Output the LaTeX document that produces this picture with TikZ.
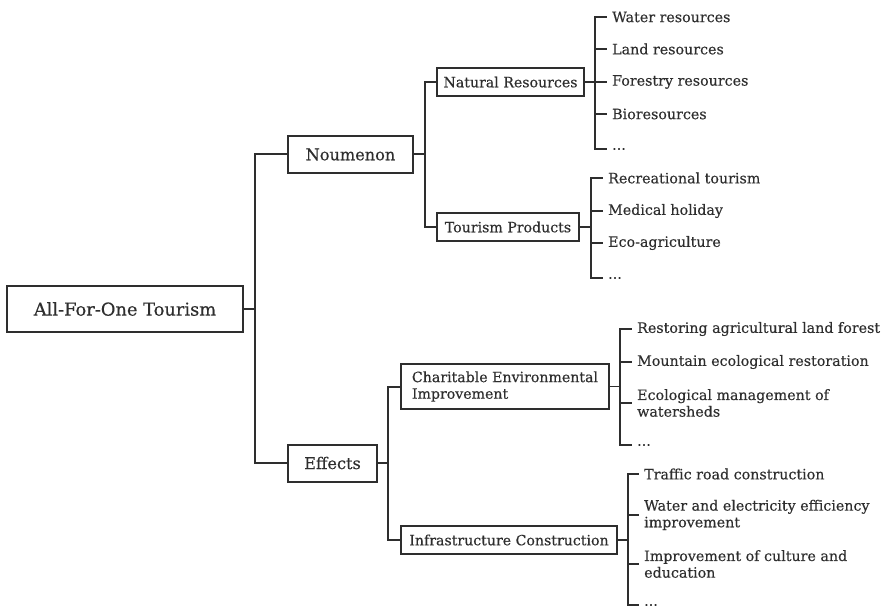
\documentclass[tikz,border=0pt]{standalone}
\usepackage{fontspec}
\setmainfont{DejaVu Serif}[FakeBold=0.35]
\definecolor{ink}{HTML}{2E2E2E}
\begin{document}
\begin{tikzpicture}[x=1bp,y=-1bp,
  box/.style={draw=ink,text=ink,inner sep=0pt,align=center},
  rootbox/.style={box,line width=2.2bp,minimum width=236bp,minimum height=46bp,font=\fontsize{17.9}{21}\selectfont},
  lvlone/.style={box,line width=2bp,minimum height=37bp,font=\fontsize{16.2}{19}\selectfont},
  lvltwo/.style={box,line width=1.5bp,minimum height=28bp,font=\fontsize{14.2}{16.7}\selectfont},
  leaf/.style={anchor=west,inner xsep=5bp,inner ysep=0pt,text=ink,align=left,font=\fontsize{14.3}{16.7}\selectfont},
  thick link/.style={draw=ink,line width=2bp},
  thin link/.style={draw=ink,line width=1.5bp}]
\useasboundingbox (0,0) rectangle (887,609);
% root and level one
\node[rootbox] (root) at (125,309) {All-For-One Tourism};
\node[lvlone,minimum width=125bp] (nou) at (350.5,154.5) {Noumenon};
\node[lvlone,minimum width=89bp] (eff) at (332.5,463) {Effects};
% level two
\node[lvltwo,minimum width=147bp] (nr) at (510.5,82) {Natural Resources};
\node[lvltwo,minimum width=142bp] (tp) at (508,227) {Tourism Products};
\node[lvltwo,minimum width=208bp,minimum height=45bp,align=left] (cei) at (505,386.5) {Charitable Environmental\\Improvement};
\node[lvltwo,minimum width=216bp] (ic) at (509,540) {Infrastructure Construction};
% leaves of natural resources
\node[leaf] (w1) at (607,17) {Water resources};
\node[leaf] (w2) at (607,49) {Land resources};
\node[leaf] (w3) at (607,82) {Forestry resources};
\node[leaf] (w4) at (607,114) {Bioresources};
\node[leaf] (w5) at (607,149) {...};
% leaves of tourism products
\node[leaf] (t1) at (603,178) {Recreational tourism};
\node[leaf] (t2) at (603,211) {Medical holiday};
\node[leaf] (t3) at (603,243) {Eco-agriculture};
\node[leaf] (t4) at (603,278) {...};
% leaves of charitable environmental improvement
\node[leaf] (c1) at (632,329) {Restoring agricultural land forest};
\node[leaf] (c2) at (632,362) {Mountain ecological restoration};
\node[leaf] (c3) at (632,403) {Ecological management of\\watersheds};
\node[leaf] (c4) at (632,445) {...};
% leaves of infrastructure construction
\node[leaf] (i1) at (639,474) {Traffic road construction};
\node[leaf] (i2) at (639,515) {Water and electricity efficiency\\improvement};
\node[leaf] (i3) at (639,564) {Improvement of culture and\\education};
\node[leaf] (i4) at (639,605) {...};
% connectors
\foreach \c in {nou,eff} \draw[thick link] (root.east) -- +(11,0) |- (\c.west);
\draw[thick link] (nou.east) -- +(11,0) |- (nr.west);
\draw[thick link] (nou.east) -- +(11,0) |- (tp.west);
\draw[thick link] (eff.east) -- +(10,0) |- (cei.west);
\draw[thick link] (eff.east) -- +(10,0) |- (ic.west);
\foreach \c in {w1,w2,w3,w4,w5} \draw[thin link] (nr.east) -- +(10,0) |- (\c.west);
\foreach \c in {t1,t2,t3,t4} \draw[thin link] (tp.east) -- +(11,0) |- (\c.west);
\foreach \c in {c1,c2,c3,c4} \draw[thin link] (cei.east) -- +(10,0) |- (\c.west);
\foreach \c in {i1,i2,i3,i4} \draw[thin link] (ic.east) -- +(10,0) |- (\c.west);
\end{tikzpicture}
\end{document}
